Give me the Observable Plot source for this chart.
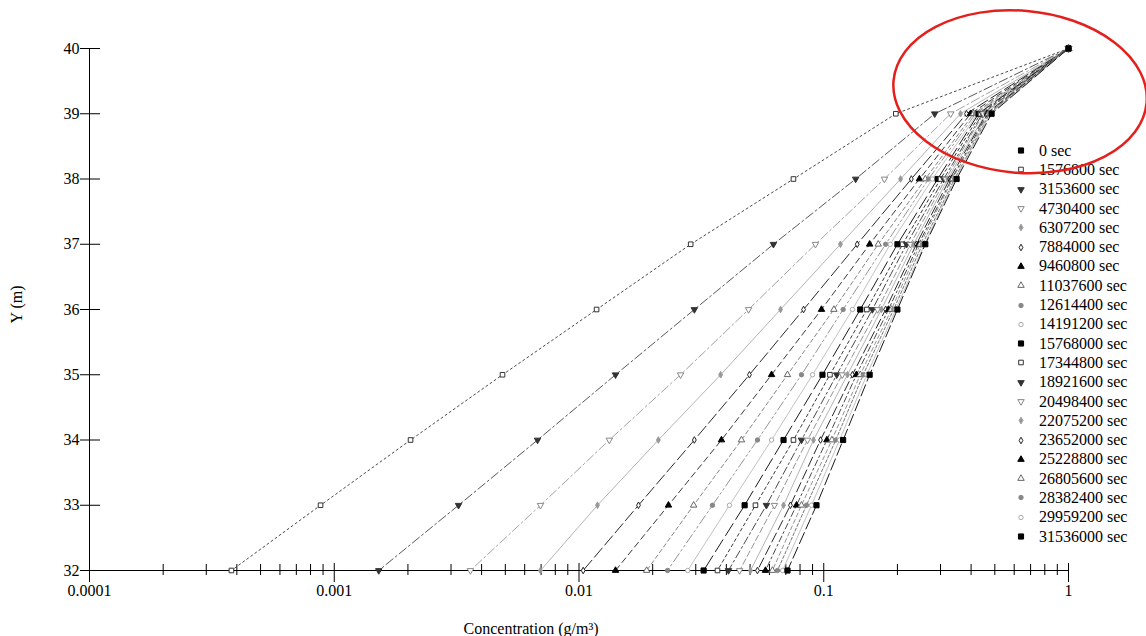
<!DOCTYPE html>
<html><head><meta charset="utf-8">
<script src="https://cdn.jsdelivr.net/npm/d3@7"></script>
<script src="https://cdn.jsdelivr.net/npm/@observablehq/plot@0.6"></script>
<style>
html,body{margin:0;padding:0;background:#fff;}
#wrap{position:relative;width:1146px;height:636px;overflow:hidden;font-family:"Liberation Serif","Times New Roman",serif;}
#legend{position:absolute;left:1010px;top:141px;}
.row{height:19.3px;font-size:16px;white-space:nowrap;display:flex;align-items:center;color:#000;}
.row svg{width:22px;height:19px;margin-right:7px;flex:none;}
#overlay{position:absolute;left:0;top:0;pointer-events:none;}
</style></head><body><div id="wrap"></div>
<script>
// ---- data ----
const depths = [40, 39, 38, 37, 36, 35, 34, 33, 32];
const times = [0, 1576800, 3153600, 4730400, 6307200, 7884000, 9460800, 11037600, 12614400, 14191200,
  15768000, 17344800, 18921600, 20498400, 22075200, 23652000, 25228800, 26805600, 28382400, 29959200, 31536000];
const conc00 = [1];
const conc01 = [1, 0.197, 0.0752, 0.0286, 0.0118, 0.00487, 0.00205, 0.000879, 0.000380];
const conc02 = [1, 0.284, 0.135, 0.0623, 0.0296, 0.0141, 0.00677, 0.00322, 0.00152];
const conc03 = [1, 0.330, 0.177, 0.0925, 0.0493, 0.0260, 0.0133, 0.00696, 0.00360];
const conc04 = [1, 0.362, 0.206, 0.117, 0.0666, 0.0379, 0.0211, 0.0119, 0.00696];
const conc05 = [1, 0.383, 0.228, 0.137, 0.0827, 0.0497, 0.0296, 0.0175, 0.0104];
const conc06 = [1, 0.398, 0.246, 0.154, 0.0979, 0.0612, 0.0382, 0.0232, 0.0141];
const conc07 = [1, 0.409, 0.260, 0.167, 0.110, 0.0711, 0.0461, 0.0294, 0.0189];
const conc08 = [1, 0.417, 0.268, 0.179, 0.120, 0.0811, 0.0536, 0.0351, 0.0230];
const conc09 = [1, 0.425, 0.278, 0.187, 0.131, 0.0900, 0.0612, 0.0412, 0.0278];
const conc10 = [1, 0.429, 0.292, 0.200, 0.141, 0.0988, 0.0685, 0.0475, 0.0323];
const conc11 = [1, 0.437, 0.300, 0.210, 0.150, 0.106, 0.0752, 0.0526, 0.0368];
const conc12 = [1, 0.445, 0.309, 0.218, 0.158, 0.113, 0.0811, 0.0583, 0.0408];
const conc13 = [1, 0.449, 0.315, 0.226, 0.166, 0.119, 0.0858, 0.0629, 0.0453];
const conc14 = [1, 0.458, 0.321, 0.233, 0.172, 0.125, 0.0908, 0.0685, 0.0502];
const conc15 = [1, 0.462, 0.327, 0.239, 0.179, 0.131, 0.0970, 0.0731, 0.0536];
const conc16 = [1, 0.467, 0.333, 0.244, 0.184, 0.136, 0.103, 0.0774, 0.0578];
const conc17 = [1, 0.471, 0.336, 0.248, 0.189, 0.141, 0.108, 0.0811, 0.0617];
const conc18 = [1, 0.476, 0.342, 0.253, 0.193, 0.145, 0.112, 0.0850, 0.0647];
const conc19 = [1, 0.480, 0.345, 0.258, 0.197, 0.150, 0.116, 0.0891, 0.0679];
const conc20 = [1, 0.485, 0.349, 0.260, 0.200, 0.154, 0.120, 0.0934, 0.0711];
const seriesValues = [conc00, conc01, conc02, conc03, conc04, conc05, conc06, conc07, conc08, conc09, conc10,
  conc11, conc12, conc13, conc14, conc15, conc16, conc17, conc18, conc19, conc20];
const xTickValues = [0.0001, 0.001, 0.01, 0.1, 1];
const xTickLabels = ["0.0001", "0.001", "0.01", "0.1", "1"];
const xMinorTicks = [2, 3, 4, 5, 6, 7, 8, 9].flatMap(m => [0.0001, 0.001, 0.01, 0.1].map(d => +(m * d).toPrecision(3)));
const yTickValues = [32, 33, 34, 35, 36, 37, 38, 39, 40];
const xLabel = "Concentration (g/m³)";
const yLabel = "Y (m)";

// ---- styles ----
const triDown = {draw(ctx, size) {
  const y = -Math.sqrt(size / (Math.sqrt(3) * 3));
  ctx.moveTo(0, -y * 2); ctx.lineTo(-Math.sqrt(3) * y, y); ctx.lineTo(Math.sqrt(3) * y, y); ctx.closePath();
}};
const markerStyles = [
  {symbol: d3.symbolSquare, r: 2.9, fill: "#000", stroke: "#000"},
  {symbol: d3.symbolSquare, r: 2.6, fill: "#fff", stroke: "#333"},
  {symbol: triDown, r: 2.4, fill: "#333", stroke: "#333"},
  {symbol: triDown, r: 2.4, fill: "#fff", stroke: "#888"},
  {symbol: d3.symbolDiamond, r: 2.0, fill: "#999", stroke: "#999"},
  {symbol: d3.symbolDiamond, r: 2.0, fill: "#fff", stroke: "#222"},
  {symbol: d3.symbolTriangle, r: 2.4, fill: "#000", stroke: "#000"},
  {symbol: d3.symbolTriangle, r: 2.4, fill: "#fff", stroke: "#666"},
  {symbol: d3.symbolCircle, r: 2.2, fill: "#888", stroke: "#888"},
  {symbol: d3.symbolCircle, r: 2.2, fill: "#fff", stroke: "#aaa"}
];
const lineColors = ["#000", "#333", "#444", "#999", "#aaa", "#111", "#222", "#777", "#888", "#bbb",
  "#000", "#222", "#333", "#888", "#aaa", "#111", "#333", "#888", "#666", "#bbb", "#000"];
const lineDashes = [null, "2,3", "9,3,2,3", "9,3,2,3", null, "12,4", "6,4", "4,3", "10,3,2,3,2,3", null,
  "14,5", "3,3", "8,3,2,3", "6,3", null, "10,4", "6,3,2,3", "4,3", "3,2", null, "12,4"];

// ---- chart ----
const seriesData = seriesValues.map(vals => vals.map((c, j) => ({c, y: depths[j]})));
const marks = [];
seriesData.forEach((data, i) => {
  if (data.length > 1) marks.push(Plot.line(data, {x: "c", y: "y", stroke: lineColors[i], strokeWidth: 0.9, strokeDasharray: lineDashes[i]}));
});
seriesData.forEach((data, i) => {
  const st = markerStyles[i % 10];
  marks.push(Plot.dot(data, {x: "c", y: "y", symbol: st.symbol, r: st.r, fill: st.fill, stroke: st.stroke, strokeWidth: 1}));
});
const labelMap = new Map(xTickValues.map((v, i) => [v, xTickLabels[i]]));
const blank = () => "";

const chart = Plot.plot({
  width: 1146, height: 636,
  marginLeft: 89, marginRight: 78, marginTop: 48, marginBottom: 66,
  x: {type: "log", domain: [0.0001, 1]},
  y: {domain: [32, 40]},
  style: {fontFamily: "'Liberation Serif','Times New Roman',serif", fontSize: "16px", background: "#fff", color: "#000"},
  marks: [
    Plot.ruleY([32], {stroke: "#000", strokeWidth: 1}),
    Plot.ruleX([0.0001], {stroke: "#000", strokeWidth: 1}),
    Plot.axisX(xTickValues, {anchor: "bottom", tickSize: 12, tickPadding: 2, fontSize: 16, tickFormat: d => labelMap.get(d), label: null}),
    Plot.axisX(xTickValues, {anchor: "bottom", tickSize: -7, tickFormat: blank, label: null}),
    Plot.axisX(xMinorTicks, {anchor: "bottom", tickSize: 5, tickFormat: blank, label: null}),
    Plot.axisX(xMinorTicks, {anchor: "bottom", tickSize: -6, tickFormat: blank, label: null}),
    Plot.axisY(yTickValues, {anchor: "left", tickSize: 9, tickPadding: 1, fontSize: 16, tickFormat: d => String(d), label: null}),
    Plot.axisY(yTickValues, {anchor: "left", tickSize: -11, tickFormat: blank, label: null}),
    Plot.text([xLabel], {text: d => d, frameAnchor: "bottom", dx: -48, dy: 63, fontSize: 16}),
    Plot.text([yLabel], {text: d => d, frameAnchor: "left", dx: -73, dy: 14, rotate: -90, fontSize: 16}),
    ...marks
  ]
});
const wrap = document.getElementById("wrap");
wrap.appendChild(chart);

// ---- legend ----
const legend = document.createElement("div");
legend.id = "legend";
times.forEach((t, i) => {
  const st = markerStyles[i % 10];
  const row = document.createElement("div");
  row.className = "row";
  const path = d3.symbol(st.symbol, Math.PI * st.r * st.r)();
  row.innerHTML = `<svg viewBox="-11 -9.5 22 19"><path d="${path}" fill="${st.fill}" stroke="${st.stroke}" stroke-width="1"/></svg><span>${t} sec</span>`;
  legend.appendChild(row);
});
wrap.appendChild(legend);

// ---- red annotation ellipse ----
const xs = chart.scale("x"), ys = chart.scale("y");
const cx = xs.apply(0.637), cy = ys.apply(39.33);
const ov = d3.select(wrap).append("svg").attr("id", "overlay").attr("width", 1146).attr("height", 636);
ov.append("ellipse").attr("cx", cx).attr("cy", cy).attr("rx", 127).attr("ry", 81)
  .attr("transform", `rotate(5 ${cx} ${cy})`)
  .attr("fill", "none").attr("stroke", "#e3201b").attr("stroke-width", 2.5);
</script>
</body></html>
